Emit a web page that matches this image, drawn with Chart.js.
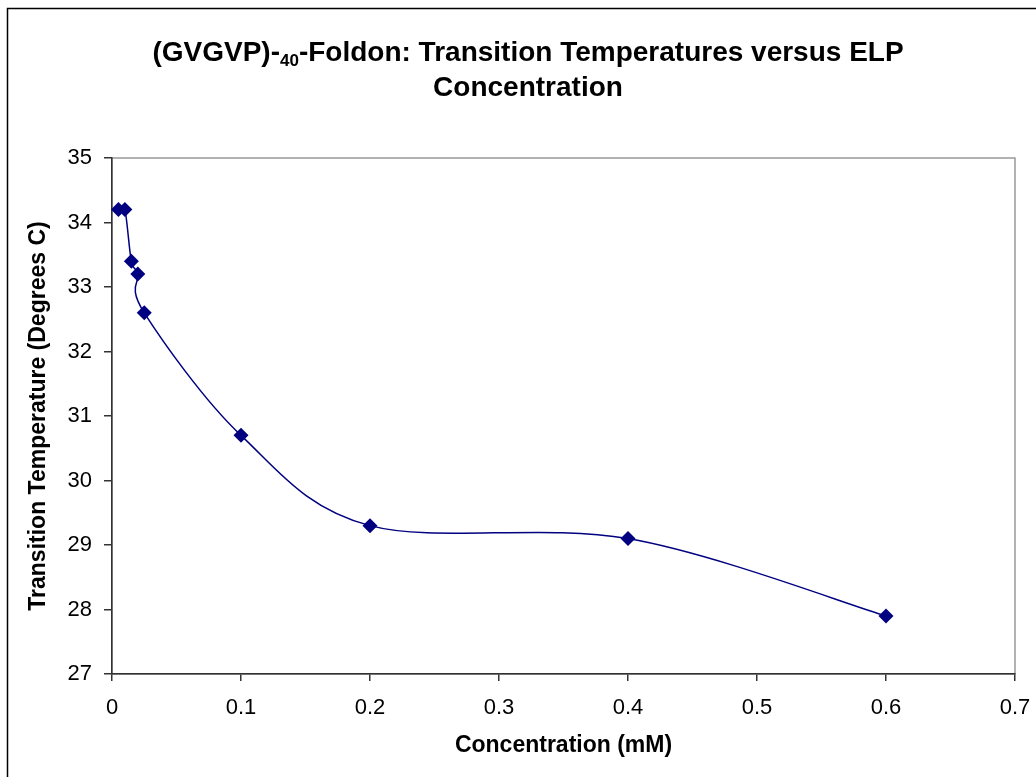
<!DOCTYPE html>
<html>
<head>
<meta charset="utf-8">
<script src="https://cdn.jsdelivr.net/npm/chart.js@4.4.0/dist/chart.umd.min.js"></script>
<style>
  html, body { margin: 0; padding: 0; background: #fff; }
  #wrap { width: 1036px; height: 777px; }
</style>
</head>
<body>
<div id="wrap"><canvas id="tempChart" width="1036" height="777"></canvas></div>
<script>
// data
const concentrations = [0.005, 0.01, 0.015, 0.02, 0.025, 0.1, 0.2, 0.4, 0.6];
const transitionTemps = [34.2, 34.2, 33.4, 33.2, 32.6, 30.7, 29.3, 29.1, 27.9];
const xTicks = [0, 0.1, 0.2, 0.3, 0.4, 0.5, 0.6, 0.7];
const yTicks = [27, 28, 29, 30, 31, 32, 33, 34, 35];

const FONT = '"Liberation Sans", Arial, sans-serif';

// frame, plot area border and the two-line title with the subscript
const decorations = {
  id: 'decorations',
  beforeDraw(chart) {
    const ctx = chart.ctx;
    const a = chart.chartArea;
    ctx.save();
    ctx.fillStyle = '#fff';
    ctx.fillRect(0, 0, chart.width, chart.height);
    ctx.strokeStyle = '#000';
    ctx.lineWidth = 1.5;
    ctx.strokeRect(7.5, 8.5, 2000, 2000);
    ctx.strokeStyle = '#999';
    ctx.lineWidth = 1.5;
    ctx.strokeRect(a.left, a.top, a.right - a.left, a.bottom - a.top);
    ctx.restore();
  },
  afterDraw(chart) {
    const ctx = chart.ctx;
    ctx.save();
    ctx.fillStyle = '#000';
    ctx.textBaseline = 'alphabetic';
    const big = 'bold 28px ' + FONT;
    const small = 'bold 17px ' + FONT;
    const parts = [
      ['(GVGVP)-', big, 0],
      ['40', small, 5],
      ['-Foldon: Transition Temperatures versus ELP', big, 0]
    ];
    let total = 0;
    parts.forEach(p => { ctx.font = p[1]; total += ctx.measureText(p[0]).width; });
    const cx = 528;
    let x = cx - total / 2;
    ctx.textAlign = 'left';
    parts.forEach(p => {
      ctx.font = p[1];
      ctx.fillText(p[0], x, 61 + p[2]);
      x += ctx.measureText(p[0]).width;
    });
    ctx.font = big;
    ctx.textAlign = 'center';
    ctx.fillText('Concentration', cx, 96);
    ctx.restore();
  }
};

// Excel style smoothing: control points at 1/6 of the neighbour span
const excelSmooth = {
  id: 'excelSmooth',
  beforeDatasetDraw(chart, args) {
    const line = args.meta.dataset;
    const pts = args.meta.data;
    line.updateControlPoints(chart.chartArea, 'x');
    for (let i = 0; i < pts.length; i++) {
      const prev = pts[Math.max(i - 1, 0)];
      const next = pts[Math.min(i + 1, pts.length - 1)];
      const p = pts[i];
      const dx = (next.x - prev.x) / 6;
      const dy = (next.y - prev.y) / 6;
      p.cp1x = p.x - dx;
      p.cp1y = p.y - dy;
      p.cp2x = p.x + dx;
      p.cp2y = p.y + dy;
    }
    line._path = undefined;
  }
};

new Chart(document.getElementById('tempChart'), {
  type: 'line',
  data: {
    datasets: [{
      label: 'Transition Temperature',
      data: concentrations.map((c, i) => ({ x: c, y: transitionTemps[i] })),
      borderColor: '#000080',
      backgroundColor: '#000080',
      borderWidth: 1.5,
      tension: 0.4,
      pointStyle: 'rectRot',
      pointRadius: 7.5,
      pointBorderWidth: 0,
      pointBackgroundColor: '#000080',
      clip: false
    }]
  },
  options: {
    responsive: false,
    animation: false,
    events: [],
    layout: { padding: { top: 158, left: 8, right: 21, bottom: 8 } },
    plugins: {
      legend: { display: false },
      title: { display: false },
      tooltip: { enabled: false }
    },
    scales: {
      x: {
        type: 'linear',
        min: 0,
        max: 0.7,
        afterBuildTicks: scale => { scale.ticks = xTicks.map(v => ({ value: v })); },
        afterFit: scale => {
          scale.height = 95;
          scale.paddingLeft = 0;
          scale.paddingRight = 0;
        },
        border: { color: '#333', width: 1.5 },
        grid: { drawOnChartArea: false, color: '#333', tickLength: 7, lineWidth: 1.5 },
        ticks: {
          color: '#000',
          font: { family: FONT, size: 22 },
          padding: 14,
          maxRotation: 0,
          callback: v => String(v)
        },
        title: {
          display: true,
          text: 'Concentration (mM)',
          color: '#000',
          font: { family: FONT, size: 23, weight: 'bold' },
          padding: { top: 0, bottom: 10 }
        }
      },
      y: {
        type: 'linear',
        min: 27,
        max: 35,
        afterBuildTicks: scale => { scale.ticks = yTicks.map(v => ({ value: v })); },
        afterFit: scale => {
          scale.width = 104;
          scale.paddingTop = 0;
          scale.paddingBottom = 0;
        },
        border: { color: '#333', width: 1.5 },
        grid: { drawOnChartArea: false, color: '#333', tickLength: 8, lineWidth: 1.5 },
        ticks: {
          color: '#000',
          font: { family: FONT, size: 22 },
          padding: 12
        },
        title: {
          display: true,
          text: 'Transition Temperature (Degrees C)',
          color: '#000',
          font: { family: FONT, size: 23, weight: 'bold' },
          padding: { top: 17, bottom: 0 }
        }
      }
    }
  },
  plugins: [decorations, excelSmooth]
});
</script>
</body>
</html>
